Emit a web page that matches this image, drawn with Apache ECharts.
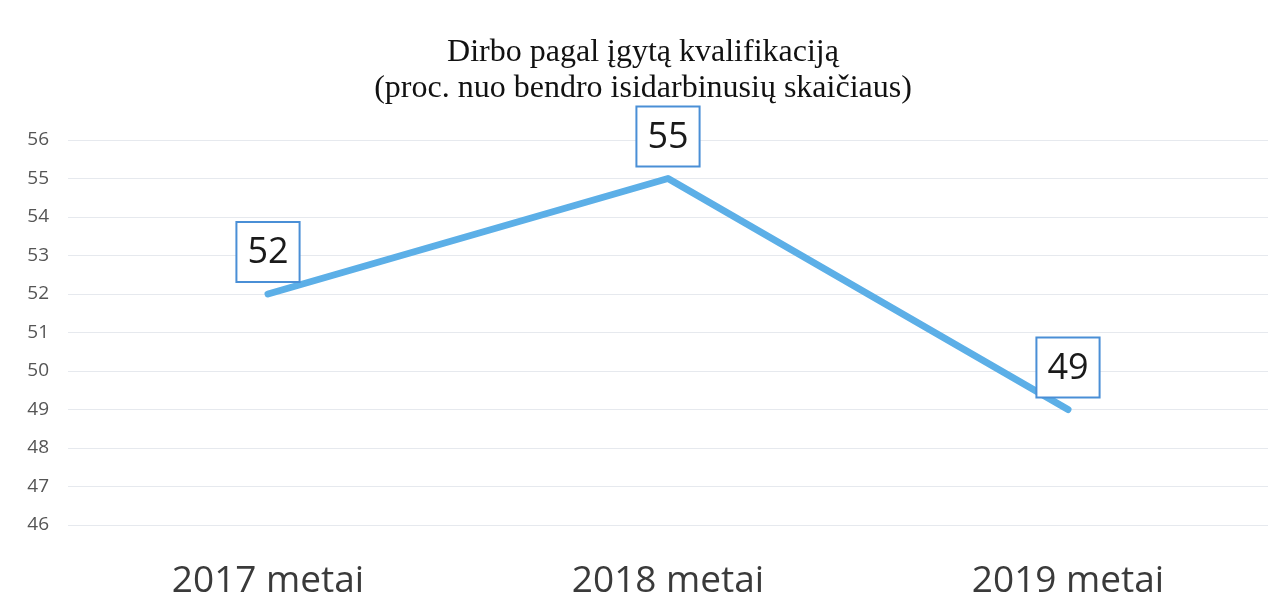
<!DOCTYPE html>
<html><head><meta charset="utf-8">
<script src="https://cdn.jsdelivr.net/npm/echarts@6/dist/echarts.min.js"></script>
<style>html,body{margin:0;padding:0;background:#fff}#c{width:1286px;height:614px}</style>
</head><body><div id="c"></div>
<script>
const categories = ['2017 metai', '2018 metai', '2019 metai'];
const values = [52, 55, 49];
const titleLines = ['Dirbo pagal įgytą kvalifikaciją', '(proc. nuo bendro isidarbinusių skaičiaus)'];

const chart = echarts.init(document.getElementById('c'));
chart.setOption({
  backgroundColor: '#fff',
  animation: false,
  title: {
    text: titleLines.join('\n'),
    left: 'center', top: 30,
    textStyle: { fontFamily: 'Liberation Serif', fontSize: 32, fontWeight: 'normal', color: '#111', lineHeight: 36 }
  },
  grid: { left: 68, right: 18, top: 140, bottom: 89 },
  xAxis: {
    type: 'category', data: categories, boundaryGap: true,
    axisLine: { show: false }, axisTick: { show: false },
    axisLabel: { fontFamily: 'Open Sans', fontSize: 37, color: '#3a3a3a', margin: 38 }
  },
  yAxis: {
    type: 'value', min: 46, max: 56, interval: 1,
    axisLine: { show: false }, axisTick: { show: false },
    axisLabel: { fontFamily: 'Open Sans', fontSize: 19, color: '#555', margin: 19 },
    splitLine: { lineStyle: { color: '#e6e9ee', width: 1 } }
  },
  series: [{
    type: 'line', data: values, symbol: 'circle', symbolSize: 2, showSymbol: true,
    itemStyle: { color: '#5cafe7' },
    lineStyle: { color: '#5cafe7', width: 7, cap: 'round', join: 'round' },
    label: {
      show: true, position: 'top', distance: 12,
      fontFamily: 'Open Sans', fontSize: 36, color: '#1a1a1a', lineHeight: 44,
      backgroundColor: '#fff', borderColor: '#4a8fd6', borderWidth: 2,
      padding: [8, 10, 6, 10]
    }
  }]
});
</script></body></html>
